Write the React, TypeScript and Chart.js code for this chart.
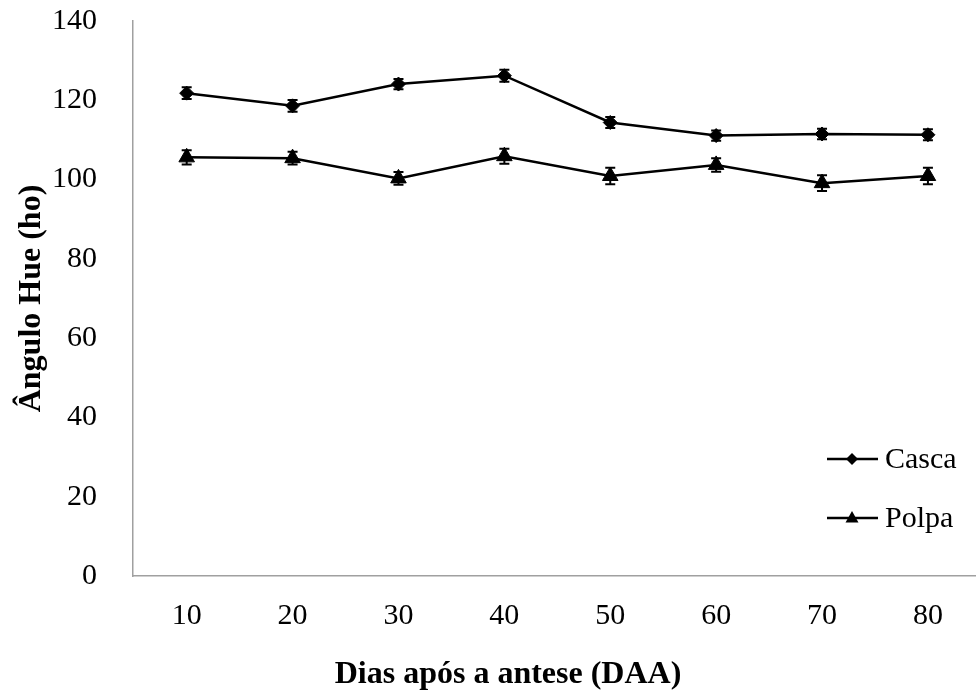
import React, { useEffect, useRef } from "react";
import { Chart, registerables } from "chart.js";

Chart.register(...registerables);

const categories = [10, 20, 30, 40, 50, 60, 70, 80];
const cascaValues = [121.8, 118.6, 124.1, 126.2, 114.4, 111.1, 111.5, 111.3];
const cascaErrors = [1.5, 1.5, 1.3, 1.5, 1.4, 1.3, 1.3, 1.4];
const polpaValues = [105.6, 105.4, 100.3, 105.9, 100.9, 103.7, 99.1, 100.9];
const polpaErrors = [1.8, 1.6, 1.6, 1.9, 2.1, 1.7, 2.0, 2.1];
const yTicks = [0, 20, 40, 60, 80, 100, 120, 140];

const seriesNames = ["Casca", "Polpa"];
const yTitle = "Ângulo Hue (ho)";
const xTitle = "Dias após a antese (DAA)";

const FONT = "'Liberation Serif', 'Times New Roman', serif";

const errorBarPlugin = {
  id: "errorBars",
  afterDatasetsDraw(chart: any) {
    const ctx = chart.ctx;
    const xs = chart.scales.x;
    const ys = chart.scales.y;
    const sets = [
      { v: cascaValues, e: cascaErrors },
      { v: polpaValues, e: polpaErrors },
    ];
    ctx.save();
    ctx.strokeStyle = "#000";
    ctx.lineWidth = 2;
    sets.forEach((s) => {
      categories.forEach((c, i) => {
        const x = xs.getPixelForValue(c);
        const yt = ys.getPixelForValue(s.v[i] + s.e[i]);
        const yb = ys.getPixelForValue(s.v[i] - s.e[i]);
        ctx.beginPath();
        ctx.moveTo(x, yt);
        ctx.lineTo(x, yb);
        ctx.moveTo(x - 5, yt);
        ctx.lineTo(x + 5, yt);
        ctx.moveTo(x - 5, yb);
        ctx.lineTo(x + 5, yb);
        ctx.stroke();
      });
    });
    ctx.restore();
  },
};

const textPlugin = {
  id: "textAndLegend",
  afterDraw(chart: any) {
    const ctx = chart.ctx;
    const area = chart.chartArea;
    ctx.save();
    ctx.fillStyle = "#000";
    ctx.font = `bold 32px ${FONT}`;
    ctx.textAlign = "center";
    ctx.textBaseline = "middle";
    ctx.fillText(xTitle, 508, 675);
    ctx.save();
    ctx.translate(32, (area.top + area.bottom) / 2);
    ctx.rotate(-Math.PI / 2);
    ctx.fillText(yTitle, 0, 0);
    ctx.restore();

    const rows = [
      { name: seriesNames[0], y: 459, shape: "diamond" },
      { name: seriesNames[1], y: 518, shape: "triangle" },
    ];
    ctx.font = `30px ${FONT}`;
    ctx.textAlign = "left";
    rows.forEach((r) => {
      ctx.strokeStyle = "#000";
      ctx.lineWidth = 2.5;
      ctx.beginPath();
      ctx.moveTo(827, r.y);
      ctx.lineTo(878, r.y);
      ctx.stroke();
      const cx = 852;
      ctx.beginPath();
      if (r.shape === "diamond") {
        ctx.moveTo(cx, r.y - 6);
        ctx.lineTo(cx + 6, r.y);
        ctx.lineTo(cx, r.y + 6);
        ctx.lineTo(cx - 6, r.y);
      } else {
        ctx.moveTo(cx, r.y - 7);
        ctx.lineTo(cx + 6.5, r.y + 4.5);
        ctx.lineTo(cx - 6.5, r.y + 4.5);
      }
      ctx.closePath();
      ctx.fill();
      ctx.fillText(r.name, 885, r.y + 1);
    });
    ctx.restore();
  },
};

export default function App() {
  const ref = useRef<HTMLCanvasElement | null>(null);

  useEffect(() => {
    if (!ref.current) return;
    const chart = new Chart(ref.current, {
      type: "line",
      data: {
        datasets: [
          {
            label: seriesNames[0],
            data: categories.map((c, i) => ({ x: c, y: cascaValues[i] })),
            borderColor: "#000",
            backgroundColor: "#000",
            borderWidth: 2.5,
            pointStyle: "rectRot",
            pointRadius: 7,
            pointBorderWidth: 1,
            tension: 0,
          },
          {
            label: seriesNames[1],
            data: categories.map((c, i) => ({ x: c, y: polpaValues[i] })),
            borderColor: "#000",
            backgroundColor: "#000",
            borderWidth: 2.5,
            pointStyle: "triangle",
            pointRadius: 9,
            pointBorderWidth: 1,
            tension: 0,
          },
        ],
      },
      options: {
        animation: false,
        responsive: false,
        layout: { autoPadding: false, padding: { top: 21, left: 0, right: 0, bottom: 0 } },
        plugins: {
          legend: { display: false },
          tooltip: { enabled: false },
        },
        scales: {
          x: {
            type: "linear",
            min: 4.93,
            max: 84.54,
            afterBuildTicks: (axis: any) => {
              axis.ticks = categories.map((v) => ({ value: v }));
            },
            afterFit: (scale: any) => {
              scale.height = 119;
              scale.paddingLeft = 0;
              scale.paddingRight = 0;
            },
            grid: { display: false },
            border: { display: true, color: "#a0a0a0", width: 1.5 },
            ticks: {
              color: "#000",
              font: { family: FONT, size: 30 },
              padding: 14,
              maxRotation: 0,
              autoSkip: false,
            },
          },
          y: {
            min: 0,
            max: 140,
            afterBuildTicks: (axis: any) => {
              axis.ticks = yTicks.map((v) => ({ value: v }));
            },
            afterFit: (scale: any) => {
              scale.width = 133;
              scale.paddingTop = 0;
              scale.paddingBottom = 0;
            },
            grid: { display: false },
            border: { display: true, color: "#a0a0a0", width: 1.5 },
            ticks: {
              color: "#000",
              font: { family: FONT, size: 30 },
              padding: 28,
            },
          },
        },
      },
      plugins: [errorBarPlugin, textPlugin],
    });
    return () => chart.destroy();
  }, []);

  return (
    <div style={{ position: "fixed", left: 0, top: 0, width: 976, height: 695, background: "#fff" }}>
      <canvas ref={ref} width={976} height={695} />
    </div>
  );
}
